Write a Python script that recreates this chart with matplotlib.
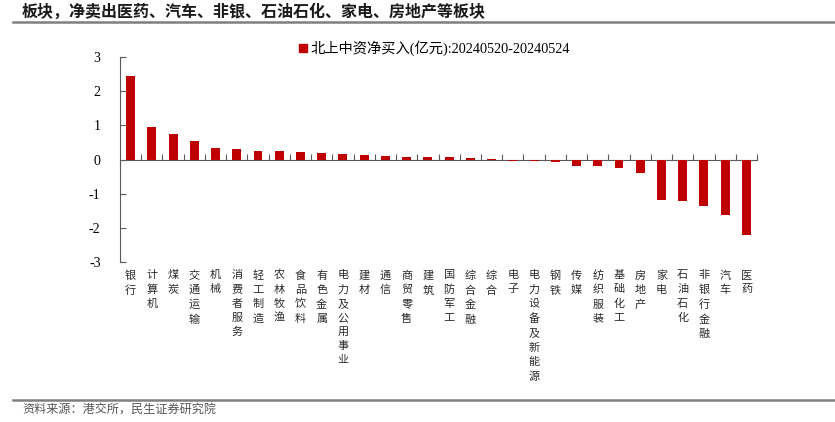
import numpy as np
import matplotlib
matplotlib.use('Agg')
import matplotlib.pyplot as plt
from matplotlib.lines import Line2D

# data
sectors = ['银行', '计算机', '煤炭', '交通运输', '机械', '消费者服务', '轻工制造', '农林牧渔',
           '食品饮料', '有色金属', '电力及公用事业', '建材', '通信', '商贸零售', '建筑',
           '国防军工', '综合金融', '综合', '电子', '电力设备及新能源', '钢铁', '传媒',
           '纺织服装', '基础化工', '房地产', '家电', '石油石化', '非银行金融', '汽车', '医药']
net_buy = [2.45, 0.96, 0.74, 0.53, 0.34, 0.31, 0.245, 0.245, 0.22, 0.18, 0.15, 0.13, 0.09,
           0.08, 0.08, 0.06, 0.03, 0.01, -0.05, -0.05, -0.07, -0.19, -0.19, -0.24, -0.38,
           -1.17, -1.21, -1.37, -1.61, -2.22]
yticks = [-3, -2, -1, 0, 1, 2, 3]
legend_label = '北上中资净买入(亿元):20240520-20240524'
title = '板块，净卖出医药、汽车、非银、石油石化、家电、房地产等板块'
source = '资料来源：港交所，民生证券研究院'

serif = ['Liberation Serif', 'Noto Sans CJK SC']
sans = ['Noto Sans CJK SC', 'DejaVu Sans']
red = '#C00000'
axcol = '#595959'

fig = plt.figure(figsize=(8.35, 4.22), dpi=100)
ax = fig.add_axes([0.1437, 0.379, 0.7629, 0.486])

x = np.arange(len(sectors))
ax.bar(x, net_buy, width=0.42, color=red, zorder=3)

ax.set_xlim(-0.5, len(sectors) - 0.5)
ax.set_ylim(-3, 3)
ax.set_yticks(yticks)
ax.set_yticklabels([str(v) for v in yticks], family=serif, fontsize=10)
ax.tick_params(axis='y', direction='in', length=4, color=axcol, pad=14, width=0.8)

for s in ['top', 'right']:
    ax.spines[s].set_visible(False)
ax.spines['left'].set_color(axcol)
ax.spines['bottom'].set_position(('data', 0))
ax.spines['bottom'].set_color(axcol)
ax.set_xticks(x + 0.5)
ax.set_xticklabels([])
ax.tick_params(axis='x', direction='in', length=4, color=axcol, width=0.8)

# vertical stacked category labels at the bottom of the axes
for i, name in enumerate(sectors):
    ax.text(i, -0.04, '\n'.join(name), transform=ax.get_xaxis_transform(),
            ha='center', va='top', fontsize=8, family=sans, linespacing=1.52,
            color='#2a2a2a')

handle = Line2D([], [], marker='s', color=red, linestyle='none', markersize=6)
fig.legend([handle], [legend_label], loc='center left', bbox_to_anchor=(0.349, 0.885),
           frameon=False, prop={'family': serif, 'size': 10.3}, handletextpad=0.1,
           handlelength=0.8, borderaxespad=0)

fig.text(0.026, 0.972, title, fontsize=11.5, fontweight='bold', family=sans,
         color='#1a1a1a', va='center', ha='left')
fig.add_artist(Line2D([0.016, 1.0], [0.948, 0.948], color='#7f7f7f', lw=1.8,
                      transform=fig.transFigure))
fig.add_artist(Line2D([0.016, 1.0], [0.053, 0.053], color='#7f7f7f', lw=1.8,
                      transform=fig.transFigure))
fig.text(0.027, 0.028, source, fontsize=8.7, family=sans, color='#555555',
         va='center', ha='left')

fig.savefig('out.png', dpi=100)
